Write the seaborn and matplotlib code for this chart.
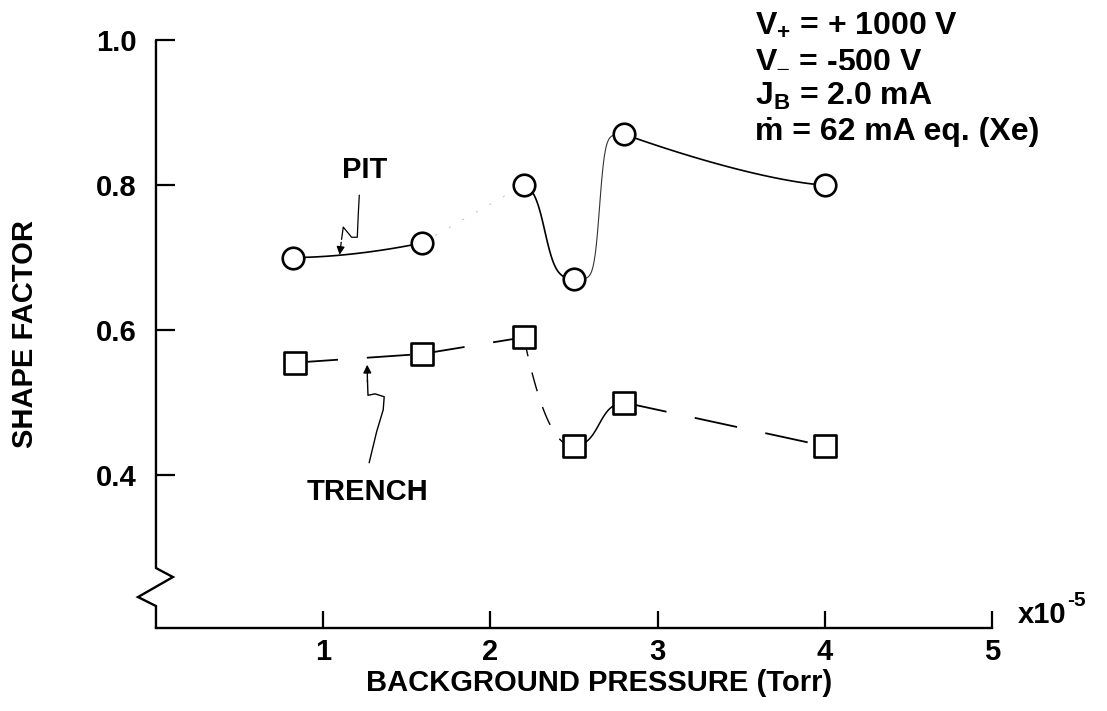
import numpy as np
import matplotlib
matplotlib.use("Agg")
import matplotlib.pyplot as plt
import seaborn as sns

# Shape factor of sputtered features versus background pressure
pressure_pit = [0.82, 1.59, 2.20, 2.50, 2.80, 4.00]
shape_pit = [0.70, 0.72, 0.80, 0.67, 0.87, 0.80]
pressure_trench = [0.83, 1.59, 2.20, 2.50, 2.80, 4.00]
shape_trench = [0.555, 0.567, 0.59, 0.44, 0.50, 0.44]

x_ticks = [1, 2, 3, 4, 5]
y_ticks = [0.4, 0.6, 0.8, 1.0]
y_tick_labels = ["0.4", "0.6", "0.8", "1.0"]
x_label = "BACKGROUND PRESSURE (Torr)"
y_label = "SHAPE FACTOR"
x_scale_base = "x10"
x_scale_exp = "-5"
conditions = [r"V$_{+}$ = + 1000 V",
              "V$_{\u2013}$ = -500 V",
              r"J$_{\mathbf{B}}$ = 2.0 mA",
              "ṁ = 62 mA eq. (Xe)"]

sns.set_theme(style="white")
plt.rcParams["font.family"] = ["Liberation Sans", "DejaVu Sans"]
plt.rcParams["font.weight"] = "bold"
plt.rcParams["mathtext.fontset"] = "custom"
plt.rcParams["mathtext.rm"] = "Liberation Sans:bold"
plt.rcParams["mathtext.it"] = "Liberation Sans:bold"
plt.rcParams["mathtext.bf"] = "Liberation Sans:bold"
plt.rcParams["mathtext.default"] = "regular"

fig = plt.figure(figsize=(11.07, 7.11), dpi=100)
ax = fig.add_axes([0.1409, 0.1167, 0.7552, 0.827])
ax.patch.set_visible(False)
ax.set_xlim(0, 5)
ax.set_ylim(0.189, 1.0)


def logistic(c, k):
    lo = 1 / (1 + np.exp(k * c))
    hi = 1 / (1 + np.exp(-k * (1 - c)))
    return lambda u: (1 / (1 + np.exp(-k * (u - c))) - lo) / (hi - lo)


def power_in(p):
    return lambda u: u ** p


def power_out(p):
    return lambda u: 1 - (1 - u) ** p


def linear(u):
    return u


def segment(xs, ys, i, shape, n=80):
    u = np.linspace(0, 1, n)
    x = xs[i] + (xs[i + 1] - xs[i]) * u
    y = ys[i] + (ys[i + 1] - ys[i]) * shape(u)
    return x, y


def draw(xs, ys, i, shape, **kw):
    x, y = segment(xs, ys, i, shape)
    sns.lineplot(x=x, y=y, sort=False, estimator=None, ax=ax, **kw)


# PIT curve
draw(pressure_pit, shape_pit, 0, power_in(1.8), color="black", lw=1.2)
draw(pressure_pit, shape_pit, 1, linear, color="#bbbbbb", lw=0.7, linestyle=(0, (2, 14)))
draw(pressure_pit, shape_pit, 2, logistic(0.42, 9), color="black", lw=1.2)
draw(pressure_pit, shape_pit, 3, logistic(0.51, 18), color="#333333", lw=0.8)
draw(pressure_pit, shape_pit, 4, power_out(1.4), color="black", lw=1.2)

# TRENCH curve
long_dash = (0, (24, 16))
draw(pressure_trench, shape_trench, 0, linear, color="black", lw=1.3, linestyle=long_dash)
draw(pressure_trench, shape_trench, 1, linear, color="black", lw=1.3, linestyle=long_dash)
draw(pressure_trench, shape_trench, 2, power_out(2.2), color="black", lw=1.0, linestyle=(0, (14, 12)))
draw(pressure_trench, shape_trench, 3, logistic(0.5, 8), color="black", lw=1.1)
draw(pressure_trench, shape_trench, 4, linear, color="black", lw=1.3, linestyle=long_dash)

sns.scatterplot(x=pressure_pit, y=shape_pit, marker="o", s=15.5 ** 2,
                facecolor="white", edgecolor="black", linewidth=1.9, ax=ax, zorder=5)
sns.scatterplot(x=pressure_trench, y=shape_trench, marker="s", s=16 ** 2,
                facecolor="white", edgecolor="black", linewidth=1.9, ax=ax, zorder=5)

# Axes: bottom spine kept, left spine drawn with a break near the bottom
for side in ["top", "right", "left"]:
    ax.spines[side].set_visible(False)
ax.spines["bottom"].set_linewidth(1.7)
ax.spines["bottom"].set_color("black")
bx = [0, 0, 0.0203, -0.0215, 0, 0]
by = [1, 0.102, 0.0867, 0.0527, 0.0374, 0]
ax.plot(bx, by, color="black", lw=1.7, transform=ax.transAxes, clip_on=False,
        solid_joinstyle="miter")

ax.set_xticks(x_ticks)
ax.set_xticklabels([str(t) for t in x_ticks])
ax.set_yticks(y_ticks)
ax.set_yticklabels(y_tick_labels)
ax.tick_params(axis="x", direction="in", length=12, width=1.6, color="black",
               labelsize=21, pad=7, bottom=True)
ax.tick_params(axis="y", direction="in", length=13.5, width=1.6, color="black",
               labelsize=21, pad=14, left=True)
for lab in ax.get_xticklabels() + ax.get_yticklabels():
    lab.set_color("black")
    lab.set_fontweight("bold")

ax.set_xlabel(x_label, fontsize=21, color="black", fontweight="bold")
ax.set_ylabel(y_label, fontsize=21, color="black", fontweight="bold")
ax.xaxis.set_label_coords(0.53, -0.07)
ax.yaxis.set_label_coords(-0.14, 0.5)

fig.text(1018 / 1107, 1 - 623 / 711, x_scale_base, fontsize=21, color="black",
         va="baseline", ha="left", fontweight="bold")
fig.text(1067 / 1107, 1 - 606 / 711, x_scale_exp, fontsize=15, color="black",
         va="baseline", ha="left", fontweight="bold")

# Operating conditions
baselines = [33, 67, 105, 140]
for line, b in zip(conditions, baselines):
    fig.text(755 / 1107, 1 - b / 711, line, fontsize=23, color="black",
             va="baseline", ha="left", fontweight="bold")

# Curve labels with pointers
ax.text(1.25, 0.821, "PIT", fontsize=21, color="black", ha="center", va="center",
        fontweight="bold")
px = [1.216, 1.21, 1.204, 1.17, 1.12, 1.11]
py = [0.786, 0.76, 0.728, 0.728, 0.742, 0.725]
ax.plot(px, py, color="black", lw=0.9)
ax.annotate("", xy=(1.096, 0.70), xytext=(1.11, 0.725),
            arrowprops=dict(arrowstyle="-|>", color="black", lw=0.9,
                            mutation_scale=12))

ax.text(1.263, 0.377, "TRENCH", fontsize=21, color="black", ha="center", va="center",
        fontweight="bold")
tx = [1.275, 1.32, 1.359, 1.365, 1.31, 1.268, 1.265]
ty = [0.417, 0.46, 0.49, 0.508, 0.512, 0.51, 0.53]
ax.plot(tx, ty, color="black", lw=1.0)
ax.annotate("", xy=(1.263, 0.556), xytext=(1.265, 0.525),
            arrowprops=dict(arrowstyle="-|>", color="black", lw=1.0,
                            mutation_scale=12))

fig.savefig("out.png", dpi=100)
